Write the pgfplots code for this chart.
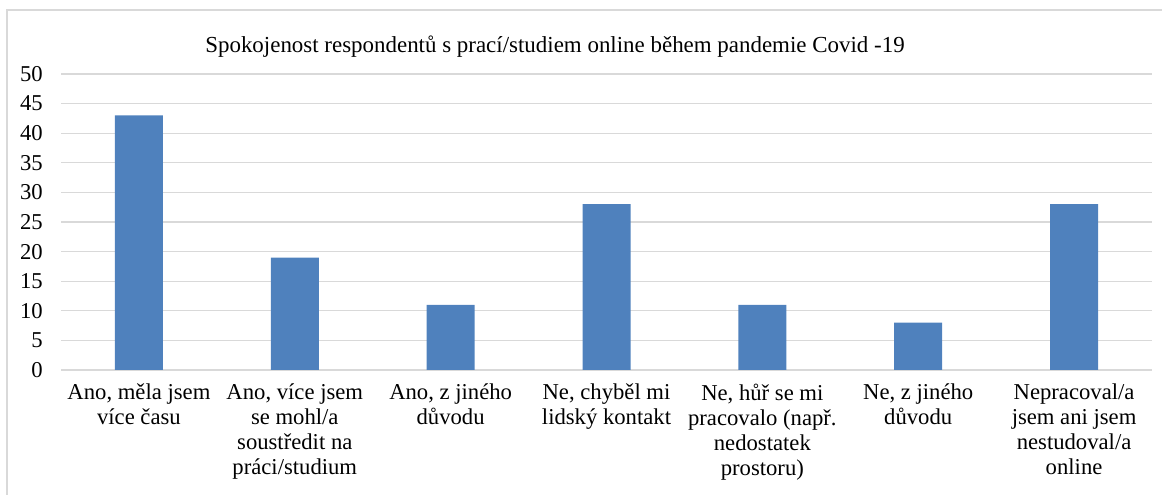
\documentclass[border=0pt]{standalone}
\usepackage{pgfplots}
\pgfplotsset{compat=1.18}
\usepackage{fontspec}
\setmainfont{Liberation Serif}
\definecolor{barblue}{RGB}{79,129,189}
\definecolor{gridgray}{RGB}{217,217,217}
\begin{document}
\begin{tikzpicture}
\useasboundingbox (0,0) rectangle (871.5pt,371.25pt);
\draw[gridgray, line width=0.9pt] (5.25pt,0) -- (5.25pt,363.75pt) -- (871.5pt,363.75pt);
\node[anchor=base, inner sep=0pt, font=\fontsize{17.2}{20}\selectfont] at (416.25pt,331.5pt)
  {Spokojenost respondentů s prací/studiem online během pandemie Covid -19};
\begin{axis}[
  at={(45.75pt,93.75pt)}, anchor=south west,
  scale only axis, width=818.25pt, height=222pt,
  xmin=-0.5, xmax=6.5, ymin=0, ymax=50,
  ytick={0,5,...,50},
  xtick={0,1,2,3,4,5,6},
  xticklabels={{Ano, měla jsem\\více času},
               {Ano, více jsem\\se mohl/a\\soustředit na\\práci/studium},
               {Ano, z jiného\\důvodu},
               {Ne, chyběl mi\\lidský kontakt},
               {Ne, hůř se mi\\pracovalo (např.\\nedostatek\\prostoru)},
               {Ne, z jiného\\důvodu},
               {Nepracoval/a\\jsem ani jsem\\nestudoval/a\\online}},
  xticklabel style={align=center, font=\fontsize{17}{18.75}\selectfont, inner sep=0pt, yshift=-10pt},
  yticklabel style={font=\fontsize{17}{18.75}\selectfont, inner sep=0pt, xshift=-13.5pt},
  /pgf/number format/assume math mode=true,
  axis line style={draw=none},
  tick style={draw=none},
  ymajorgrids, grid style={gridgray, line width=0.9pt},
  axis on top=false,
]
\addplot[ybar, bar width=36pt, fill=barblue, draw=none] coordinates {
  (0,43) (1,19) (2,11) (3,28) (4,11) (5,8) (6,28)
};
\end{axis}
\end{tikzpicture}
\end{document}
